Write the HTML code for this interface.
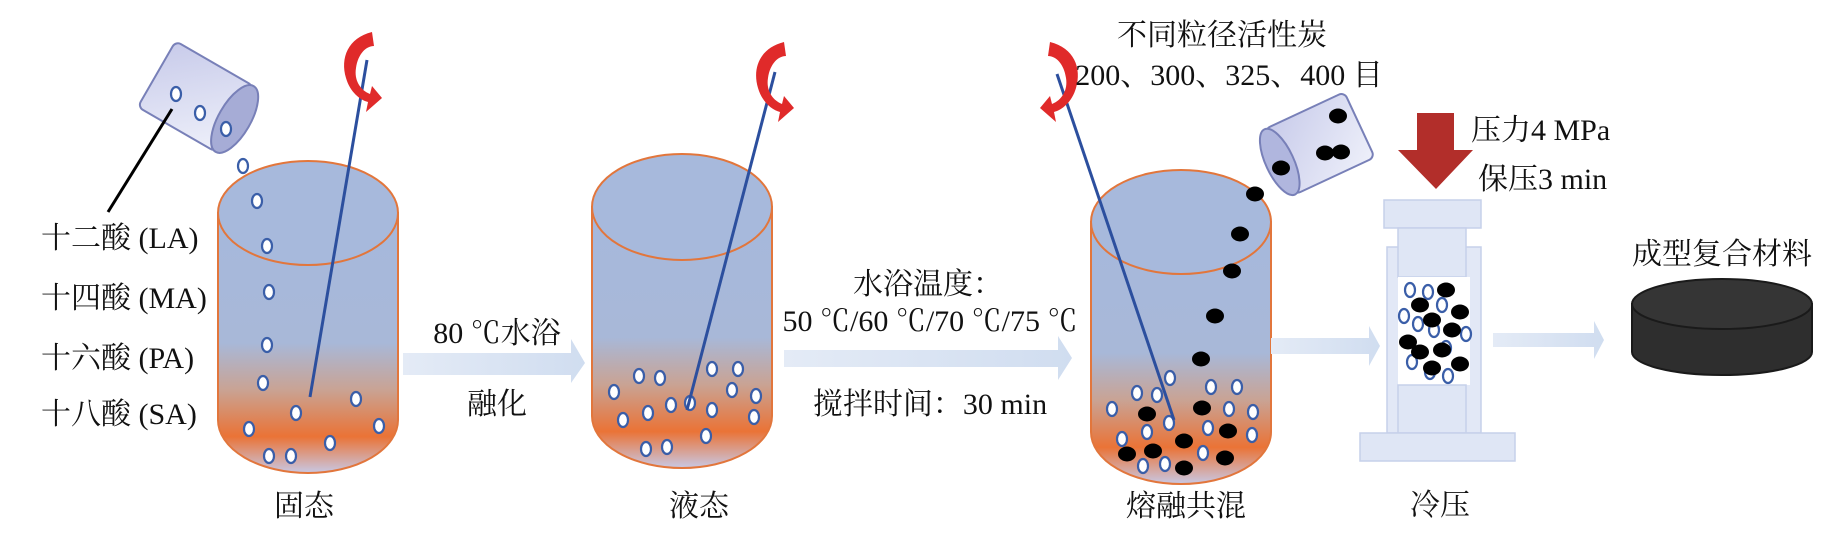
<!DOCTYPE html>
<html><head><meta charset="utf-8"><style>
html,body{margin:0;padding:0;background:#fff;}
svg{display:block;}
text{font-family:"Liberation Serif","Noto Serif CJK SC",serif;font-size:30px;fill:#111;}
</style></head><body>
<svg width="1834" height="554" viewBox="0 0 1834 554" xmlns="http://www.w3.org/2000/svg">
<defs>
<linearGradient id="cyl" x1="0" y1="0" x2="0" y2="1">
<stop offset="0" stop-color="#a6b8dc"/>
<stop offset="0.5" stop-color="#a8b8d8"/>
<stop offset="0.68" stop-color="#c9a394"/>
<stop offset="0.86" stop-color="#ea7336"/>
<stop offset="1" stop-color="#c8c8e4"/>
</linearGradient>
<linearGradient id="cup" x1="0" y1="0" x2="1" y2="1">
<stop offset="0" stop-color="#c8cbea"/><stop offset="1" stop-color="#eef0fa"/>
</linearGradient>
<linearGradient id="arr" x1="0" y1="0" x2="1" y2="0">
<stop offset="0" stop-color="#e4ebf6"/><stop offset="1" stop-color="#d0ddf0"/>
</linearGradient>
<g id="wp"><ellipse cx="0" cy="0" rx="5" ry="7" fill="#fff" stroke="#3a5ea8" stroke-width="2.2"/></g>
<g id="bp"><ellipse cx="0" cy="0" rx="9" ry="7.5" fill="#000"/></g>
<g id="red"><path d="M34 4 C10 10 2 30 8 50 C12 64 22 72 30 74 L28 84 L44 70 L34 58 L32 66 C22 62 16 52 18 40 C20 26 28 18 36 18 Z" fill="#e02a2a"/></g>
</defs>

<path d="M218 213 L218 420 A90 53 0 0 0 398 420 L398 213 Z" fill="url(#cyl)" stroke="#e2763c" stroke-width="2"/>
<ellipse cx="308" cy="213" rx="90" ry="52" fill="#a7b9dc" stroke="#e2763c" stroke-width="2"/>
<g transform="translate(200,99) rotate(30)">
<rect x="-50" y="-38" width="90" height="76" rx="6" fill="url(#cup)" stroke="#7880b8" stroke-width="2"/>
<ellipse cx="40" cy="0" rx="16" ry="38" fill="#a6acd6" stroke="#7880b8" stroke-width="2"/>
</g>
<use href="#wp" x="176" y="94"/><use href="#wp" x="200" y="113"/><use href="#wp" x="226" y="129"/>
<line x1="172" y1="109" x2="108" y2="212" stroke="#000" stroke-width="3"/>
<use href="#wp" x="243" y="166"/><use href="#wp" x="257" y="201"/><use href="#wp" x="267" y="246"/><use href="#wp" x="269" y="292"/><use href="#wp" x="267" y="345"/><use href="#wp" x="263" y="383"/><use href="#wp" x="296" y="413"/><use href="#wp" x="356" y="399"/><use href="#wp" x="249" y="429"/><use href="#wp" x="379" y="426"/><use href="#wp" x="330" y="443"/><use href="#wp" x="269" y="456"/><use href="#wp" x="291" y="456"/>
<line x1="367" y1="60" x2="310" y2="397" stroke="#2c4f9e" stroke-width="3"/>
<use href="#red" transform="translate(338,28)"/>
<text x="41" y="248">十二酸 (LA)</text>
<text x="41" y="308">十四酸 (MA)</text>
<text x="41" y="368">十六酸 (PA)</text>
<text x="41" y="424">十八酸 (SA)</text>
<text x="304" y="516" text-anchor="middle">固态</text>

<path d="M403 353 L571 353 L571 339 L585 363 L571 383 L571 375 L403 375 Z" fill="url(#arr)"/>
<text x="497" y="343" text-anchor="middle">80 ℃水浴</text>
<text x="497" y="414" text-anchor="middle">融化</text>

<path d="M592 207 L592 416 A90 52 0 0 0 772 416 L772 207 Z" fill="url(#cyl)" stroke="#e2763c" stroke-width="2"/>
<ellipse cx="682" cy="207" rx="90" ry="53" fill="#a7b9dc" stroke="#e2763c" stroke-width="2"/>
<use href="#wp" x="639" y="376"/><use href="#wp" x="660" y="378"/><use href="#wp" x="712" y="369"/><use href="#wp" x="738" y="369"/><use href="#wp" x="614" y="392"/><use href="#wp" x="732" y="390"/><use href="#wp" x="756" y="396"/><use href="#wp" x="671" y="405"/><use href="#wp" x="690" y="403"/><use href="#wp" x="712" y="410"/><use href="#wp" x="648" y="413"/><use href="#wp" x="623" y="420"/><use href="#wp" x="754" y="417"/><use href="#wp" x="706" y="436"/><use href="#wp" x="646" y="449"/><use href="#wp" x="667" y="447"/>
<line x1="775" y1="72" x2="687" y2="410" stroke="#2c4f9e" stroke-width="3"/>
<use href="#red" transform="translate(750,38)"/>
<text x="699" y="516" text-anchor="middle">液态</text>

<path d="M784 350 L1058 350 L1058 336 L1072 358 L1058 380 L1058 367 L784 367 Z" fill="url(#arr)"/>
<text x="928" y="294" text-anchor="middle">水浴温度：</text>
<text x="930" y="331" text-anchor="middle">50 ℃/60 ℃/70 ℃/75 ℃</text>
<text x="930" y="414" text-anchor="middle">搅拌时间：30 min</text>

<path d="M1091 222 L1091 432 A90 52 0 0 0 1271 432 L1271 222 Z" fill="url(#cyl)" stroke="#e2763c" stroke-width="2"/>
<ellipse cx="1181" cy="222" rx="90" ry="52" fill="#a7b9dc" stroke="#e2763c" stroke-width="2"/>
<use href="#bp" x="1255" y="194"/><use href="#bp" x="1240" y="234"/><use href="#bp" x="1232" y="271"/><use href="#bp" x="1215" y="316"/><use href="#bp" x="1201" y="359"/>
<use href="#wp" x="1170" y="378"/><use href="#wp" x="1137" y="393"/><use href="#wp" x="1157" y="395"/><use href="#wp" x="1211" y="387"/><use href="#wp" x="1237" y="387"/><use href="#wp" x="1112" y="409"/><use href="#wp" x="1229" y="409"/><use href="#wp" x="1253" y="412"/><use href="#wp" x="1169" y="423"/><use href="#wp" x="1147" y="432"/><use href="#wp" x="1208" y="428"/><use href="#wp" x="1122" y="439"/><use href="#wp" x="1252" y="435"/><use href="#wp" x="1203" y="453"/><use href="#wp" x="1143" y="466"/><use href="#wp" x="1165" y="464"/>
<use href="#bp" x="1147" y="414"/><use href="#bp" x="1202" y="408"/><use href="#bp" x="1228" y="431"/><use href="#bp" x="1184" y="441"/><use href="#bp" x="1127" y="454"/><use href="#bp" x="1153" y="451"/><use href="#bp" x="1225" y="458"/><use href="#bp" x="1184" y="468"/>
<line x1="1057" y1="74" x2="1174" y2="420" stroke="#2c4f9e" stroke-width="3"/>
<g transform="translate(1084,38) scale(-1,1)"><use href="#red"/></g>
<text x="1222" y="45" text-anchor="middle">不同粒径活性炭</text>
<text x="1229" y="85" text-anchor="middle">200、300、325、400 目</text>
<text x="1186" y="516" text-anchor="middle">熔融共混</text>
<g transform="translate(1316,145) rotate(-25)">
<rect x="-40" y="-36" width="88" height="72" rx="6" fill="url(#cup)" stroke="#7880b8" stroke-width="2"/>
<ellipse cx="-40" cy="0" rx="14" ry="36" fill="#b0b6de" stroke="#7880b8" stroke-width="2"/>
</g>
<use href="#bp" x="1338" y="116"/><use href="#bp" x="1325" y="153"/><use href="#bp" x="1341" y="152"/><use href="#bp" x="1281" y="168"/>

<path d="M1271 338 L1369 338 L1369 326 L1380 346 L1369 366 L1369 354 L1271 354 Z" fill="url(#arr)"/>

<path d="M1417 113 L1454 113 L1454 150 L1473 150 L1436 189 L1398 150 L1417 150 Z" fill="#b22e2a"/>
<text x="1471" y="140">压力4 MPa</text>
<text x="1478" y="189">保压3 min</text>
<rect x="1387" y="247" width="94" height="186" fill="#e2e8f6" stroke="#c6d0ea" stroke-width="1.5"/>
<rect x="1384" y="200" width="97" height="28" fill="#dfe6f5" stroke="#c6d0ea" stroke-width="1.5"/>
<rect x="1398" y="228" width="68" height="49" fill="#dfe6f5" stroke="#c6d0ea" stroke-width="1.5"/>
<rect x="1398" y="277" width="72" height="108" fill="#fff"/>
<rect x="1398" y="385" width="68" height="48" fill="#dfe6f5" stroke="#c6d0ea" stroke-width="1.5"/>
<rect x="1360" y="433" width="155" height="28" fill="#dfe6f5" stroke="#c6d0ea" stroke-width="1.5"/>
<use href="#wp" x="1410" y="290"/><use href="#wp" x="1428" y="292"/><use href="#wp" x="1442" y="305"/><use href="#wp" x="1404" y="316"/><use href="#wp" x="1418" y="324"/><use href="#wp" x="1434" y="330"/><use href="#wp" x="1466" y="334"/><use href="#wp" x="1446" y="348"/><use href="#wp" x="1412" y="362"/><use href="#wp" x="1430" y="372"/><use href="#wp" x="1448" y="376"/>
<use href="#bp" x="1446" y="290"/><use href="#bp" x="1420" y="305"/><use href="#bp" x="1460" y="312"/><use href="#bp" x="1432" y="320"/><use href="#bp" x="1452" y="330"/><use href="#bp" x="1408" y="342"/><use href="#bp" x="1420" y="352"/><use href="#bp" x="1442" y="350"/><use href="#bp" x="1432" y="368"/><use href="#bp" x="1460" y="364"/>
<text x="1440" y="515" text-anchor="middle">冷压</text>

<path d="M1493 333 L1594 333 L1594 321 L1604 340 L1594 359 L1594 347 L1493 347 Z" fill="url(#arr)"/>

<text x="1722" y="264" text-anchor="middle">成型复合材料</text>
<path d="M1632 304 L1632 352 A90 23 0 0 0 1812 352 L1812 304 Z" fill="#2e2e2e" stroke="#1a1a1a" stroke-width="2"/>
<ellipse cx="1722" cy="304" rx="90" ry="25" fill="#353535" stroke="#1a1a1a" stroke-width="2"/>
</svg>
</body></html>
